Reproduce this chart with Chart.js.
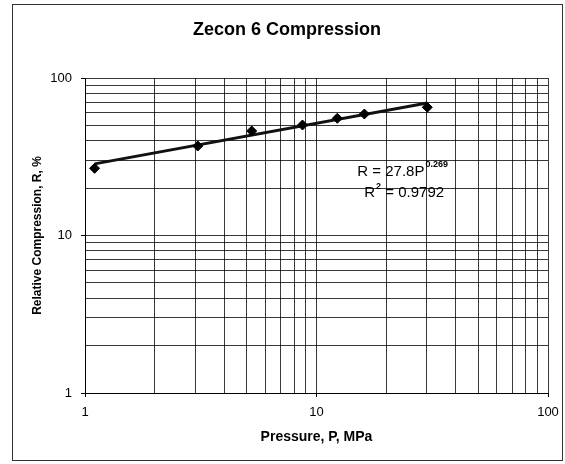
<!DOCTYPE html>
<html>
<head>
    <title>Zecon 6 Compression</title>
    <script src="https://cdn.jsdelivr.net/npm/chart.js"></script>
    <style>
        body { margin: 0; background: #fff; }
    </style>
</head>
<body>
    <canvas id="compressionChart" width="565" height="464"></canvas>
    <script>
    // measured points
    const pressure = [1.1, 3.07, 5.25, 8.7, 12.3, 16.1, 30.1];
    const compression = [26.7, 37.0, 46.1, 50.3, 55.5, 59.1, 65.2];

    // power trendline R = 27.8 P^0.269, ends as drawn
    const trendP = [1.1, 30.1];
    const trendR = [28.5, 69.3];

    // log grid positions and the decade labels
    const gridValues = [1, 2, 3, 4, 5, 6, 7, 8, 9, 10, 20, 30, 40, 50, 60, 70, 80, 90, 100];
    const decadeLabels = [1, 10, 100];

    const chartTitle = 'Zecon 6 Compression';
    const fontFamily = "'Liberation Sans', Arial, sans-serif";

    function toXY(xs, ys) {
        return xs.map((x, i) => ({ x: x, y: ys[i] }));
    }

    const isDecade = v => decadeLabels.includes(v);

    function logAxis(titleText, titleFont, titlePadding, tickPadding) {
        return {
            type: 'logarithmic',
            min: 1,
            max: 100,
            afterBuildTicks: scale => {
                scale.ticks = gridValues.map(v => ({ value: v }));
            },
            ticks: {
                autoSkip: false,
                maxRotation: 0,
                padding: tickPadding,
                color: '#000',
                font: { family: fontFamily, size: 13 },
                callback: value => isDecade(value) ? String(value) : ''
            },
            grid: {
                color: 'rgba(0,0,0,0.78)',
                lineWidth: 1,
                tickLength: 4,
                tickColor: ctx => (ctx.tick && isDecade(ctx.tick.value)) ? '#000' : 'rgba(0,0,0,0)'
            },
            border: { display: true, color: '#000', width: 1 },
            title: {
                display: true,
                text: titleText,
                color: '#000',
                font: titleFont,
                padding: titlePadding
            }
        };
    }

    const xAxis = logAxis('Pressure, P, MPa',
        { family: fontFamily, size: 14, weight: 'bold' },
        { top: 0, bottom: 18 }, 8);
    xAxis.afterFit = scale => {
        scale.height = 71;
        scale.paddingLeft = 0;
        scale.paddingRight = 0;
    };

    const yAxis = logAxis('Relative Compression, R, %',
        { family: fontFamily, size: 12, weight: 'bold' },
        { top: 30, bottom: 0 }, 9);
    yAxis.afterFit = scale => {
        scale.width = 85;
        scale.paddingTop = 0;
        scale.paddingBottom = 0;
    };

    // white page, scanned frame and the title centred on the page
    const framePlugin = {
        id: 'frame',
        beforeDraw(chart) {
            const ctx = chart.ctx;
            ctx.save();
            ctx.fillStyle = '#fff';
            ctx.fillRect(0, 0, chart.width, chart.height);
            ctx.strokeStyle = '#333';
            ctx.lineWidth = 1;
            ctx.strokeRect(12.5, 4.5, 550, 456);
            ctx.fillStyle = '#000';
            ctx.font = 'bold 18px ' + fontFamily;
            ctx.textAlign = 'center';
            ctx.textBaseline = 'middle';
            ctx.fillText(chartTitle, 287, 30);
            ctx.restore();
        }
    };

    // trendline equation text
    const equationPlugin = {
        id: 'equation',
        afterDraw(chart) {
            const ctx = chart.ctx;
            const x = chart.scales.x;
            const y = chart.scales.y;
            const left = x.getPixelForValue(15.0);
            const row1 = y.getPixelForValue(25.3);
            const row2 = y.getPixelForValue(18.6);
            ctx.save();
            ctx.fillStyle = '#000';
            ctx.textBaseline = 'middle';
            ctx.textAlign = 'left';

            ctx.font = '15px ' + fontFamily;
            const main1 = 'R = 27.8P';
            ctx.fillText(main1, left, row1);
            let w = ctx.measureText(main1).width;
            ctx.font = 'bold 9px ' + fontFamily;
            ctx.fillText('0.269', left + w + 1, row1 - 7);

            const left2 = left + 7;
            ctx.font = '15px ' + fontFamily;
            ctx.fillText('R', left2, row2);
            w = ctx.measureText('R').width;
            ctx.font = 'bold 9px ' + fontFamily;
            ctx.fillText('2', left2 + w + 1, row2 - 7);
            const w2 = ctx.measureText('2').width;
            ctx.font = '15px ' + fontFamily;
            ctx.fillText(' = 0.9792', left2 + w + w2 + 1, row2);
            ctx.restore();
        }
    };

    new Chart(document.getElementById('compressionChart'), {
        type: 'scatter',
        data: {
            datasets: [
                {
                    label: 'Measured',
                    data: toXY(pressure, compression),
                    showLine: false,
                    pointStyle: 'rectRot',
                    pointRadius: 5,
                    pointBackgroundColor: '#000',
                    pointBorderColor: '#000',
                    pointBorderWidth: 1
                },
                {
                    label: 'Power fit',
                    data: toXY(trendP, trendR),
                    showLine: true,
                    borderColor: '#111',
                    borderWidth: 3,
                    pointRadius: 0
                }
            ]
        },
        options: {
            responsive: false,
            animation: false,
            layout: { padding: { left: 0, top: 78, right: 17, bottom: 0 } },
            scales: { x: xAxis, y: yAxis },
            plugins: {
                legend: { display: false },
                tooltip: { enabled: false },
                title: { display: false }
            }
        },
        plugins: [framePlugin, equationPlugin]
    });
    </script>
</body>
</html>
